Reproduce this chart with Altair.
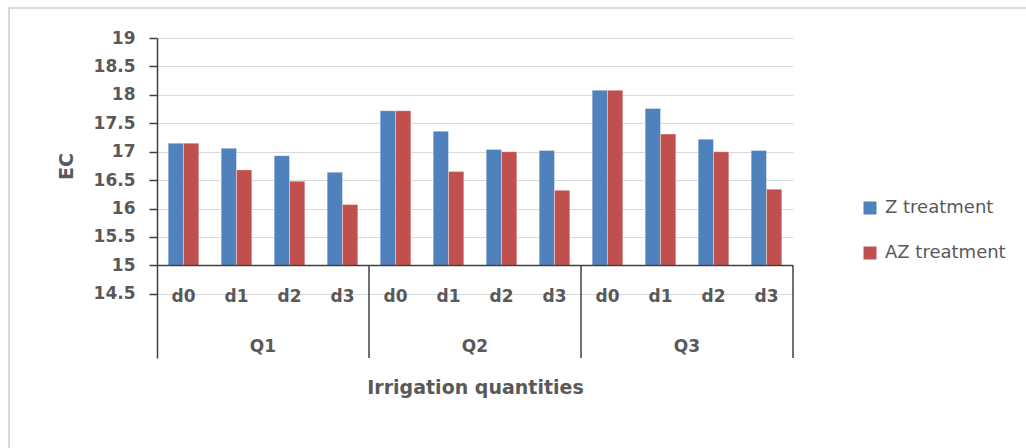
import altair as alt
import pandas as pd

# Irrigation quantity groups and dose levels within each group
groups = ["Q1", "Q2", "Q3"]
doses = ["d0", "d1", "d2", "d3"]
series = ["Z treatment", "AZ treatment"]
colors = ["#4F81BD", "#C0504D"]

# EC values, ordered Q1 d0..d3, Q2 d0..d3, Q3 d0..d3
z_values = [17.15, 17.06, 16.93, 16.64, 17.72, 17.36, 17.04, 17.02, 18.08, 17.76, 17.22, 17.02]
az_values = [17.15, 16.68, 16.48, 16.07, 17.72, 16.65, 17.00, 16.32, 18.08, 17.31, 17.00, 16.34]

y_ticks = [14.5, 15, 15.5, 16, 16.5, 17, 17.5, 18, 18.5, 19]
baseline = 15
y_min = 13.371
y_max = 19

FONT = "DejaVu Sans"
TEXT = "#595959"
LINE = "#404040"

keys = [f"{g}-{d}" for g in groups for d in doses]
rows = []
for i, k in enumerate(keys):
    g, d = k.split("-")
    rows.append({"key": k, "group": g, "dose": d, "series": series[0], "value": z_values[i]})
    rows.append({"key": k, "group": g, "dose": d, "series": series[1], "value": az_values[i]})
df = pd.DataFrame(rows)

dose_df = pd.DataFrame({"key": keys, "dose": [k.split("-")[1] for k in keys]})
group_df = pd.DataFrame({"key": [f"{g}-d1" for g in groups], "group": groups})
sep_df = pd.DataFrame({"key": ["Q2-d0", "Q3-d0"]})
end_df = pd.DataFrame({"key": ["Q3-d3"]})
one = pd.DataFrame({"a": [0]})

x_scale = alt.Scale(domain=keys, paddingInner=0, paddingOuter=0)
x_title = "Irrigation quantities"


def x_enc(**kw):
    return alt.X("key:N", scale=x_scale, title=x_title, **kw)


y_scale = alt.Scale(domain=[y_min, y_max], nice=False, zero=False)

border = alt.Chart(one).mark_rect(fill="transparent", stroke="#D9D9D9", strokeWidth=2).encode(
    x=alt.value(-148), x2=alt.value(900), y=alt.value(-30), y2=alt.value(460)
)

bars = alt.Chart(df).mark_bar(stroke="#FFFFFF", strokeOpacity=0.35, strokeWidth=1).encode(
    x=alt.X(
        "key:N",
        scale=x_scale,
        title=x_title,
        axis=alt.Axis(labels=False, ticks=False, domain=False, grid=False,
                      titlePadding=20, titleFont=FONT, titleFontSize=19,
                      titleFontWeight="bold", titleColor=TEXT),
    ),
    xOffset=alt.XOffset("series:N", scale=alt.Scale(domain=series, paddingInner=0, paddingOuter=0.73)),
    y=alt.Y(
        "value:Q",
        scale=y_scale,
        title="EC",
        axis=alt.Axis(values=y_ticks, tickCount=20, format="~g", grid=True,
                      gridColor="#D9D9D9", gridWidth=1,
                      labelOverlap=False, labelFlush=False,
                      domainColor=LINE, domainWidth=1.5, tickColor=LINE, tickSize=8,
                      tickWidth=1.5, labelPadding=14, labelFont=FONT, labelFontSize=17,
                      labelFontWeight="bold", labelColor=TEXT, titleFont=FONT,
                      titleFontSize=19, titleFontWeight="bold", titleColor=TEXT,
                      titlePadding=17, titleY=128),
    ),
    y2=alt.datum(baseline),
    color=alt.Color(
        "series:N",
        scale=alt.Scale(domain=series, range=colors),
        legend=alt.Legend(title=None, orient="none", legendX=704, legendY=161,
                          symbolType="square", symbolSize=169, symbolStrokeWidth=0,
                          symbolOpacity=1, labelFont=FONT, labelFontSize=18,
                          labelColor=TEXT, labelOffset=6, rowPadding=27, padding=0),
    ),
)

x_axis_line = alt.Chart(one).mark_rule(color=LINE, strokeWidth=1.5).encode(y=alt.datum(baseline))

separators = alt.Chart(sep_df).mark_rule(color=LINE, strokeWidth=1.5).encode(
    x=x_enc(bandPosition=0), y=alt.datum(baseline), y2=alt.datum(y_min)
)
end_line = alt.Chart(end_df).mark_rule(color=LINE, strokeWidth=1.5).encode(
    x=x_enc(bandPosition=1), y=alt.datum(baseline), y2=alt.datum(y_min)
)

dose_labels = alt.Chart(dose_df).mark_text(
    font=FONT, fontSize=17, fontWeight="bold", color=TEXT, baseline="middle", dy=3
).encode(x=x_enc(), y=alt.datum(14.5), text="dose:N")

group_labels = alt.Chart(group_df).mark_text(
    font=FONT, fontSize=17, fontWeight="bold", color=TEXT, baseline="middle", dy=2
).encode(x=x_enc(bandPosition=1), y=alt.datum(13.6), text="group:N")

chart = (
    alt.layer(border, bars, x_axis_line, separators, end_line, dose_labels, group_labels)
    .properties(
        width=636,
        height=320,
        autosize=alt.AutoSizeParams(type="none"),
        padding={"left": 157, "top": 38, "right": 233, "bottom": 90},
        background="white",
    )
    .configure_view(strokeWidth=0)
)

chart.save("out.html", embed_options={"renderer": "svg", "actions": False})
